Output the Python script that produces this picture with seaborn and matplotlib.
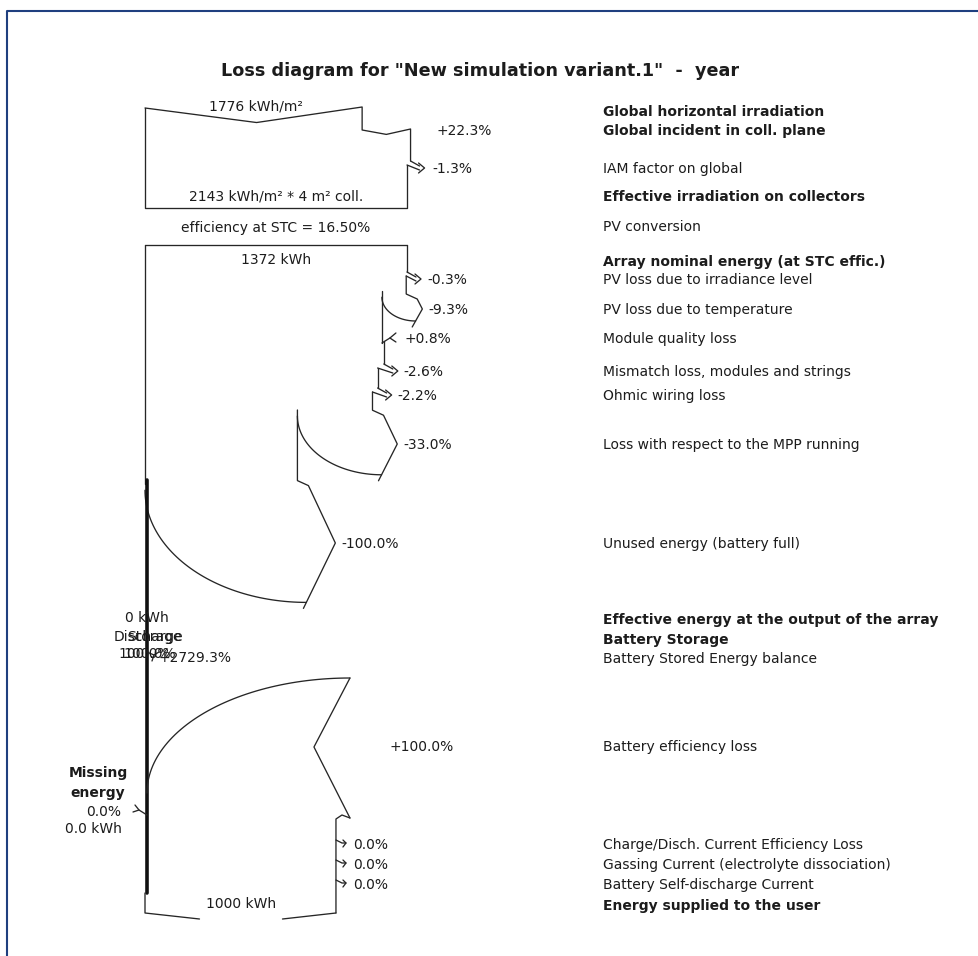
import numpy as np
import pandas as pd
import matplotlib
matplotlib.use("Agg")
import matplotlib.pyplot as plt
import seaborn as sns

# ---------------- data ----------------
title = 'Loss diagram for "New simulation variant.1"  -  year'
row_labels = [
    "Global horizontal irradiation", "Global incident in coll. plane", "IAM factor on global",
    "Effective irradiation on collectors", "PV conversion", "Array nominal energy (at STC effic.)",
    "PV loss due to irradiance level", "PV loss due to temperature", "Module quality loss",
    "Mismatch loss, modules and strings", "Ohmic wiring loss", "Loss with respect to the MPP running",
    "Unused energy (battery full)", "Effective energy at the output of the array", "Battery Storage",
    "Battery Stored Energy balance", "Battery efficiency loss", "Charge/Disch. Current Efficiency Loss",
    "Gassing Current (electrolyte dissociation)", "Battery Self-discharge Current",
    "Energy supplied to the user"]
row_bold = [1, 1, 0, 1, 0, 1, 0, 0, 0, 0, 0, 0, 0, 1, 1, 0, 0, 0, 0, 0, 1]

ghi_kwh_m2 = 1776
transposition_pct = 22.3
iam_pct = -1.3
eff_irr_kwh_m2 = 2143
coll_area_m2 = 4
stc_eff_pct = 16.50
array_nominal_kwh = 1372
array_loss_pct = [-0.3, -9.3, 0.8, -2.6, -2.2, -33.0, -100.0]
array_output_kwh = 0
discharge_pct = 100.0
storage_pct = 100.0
battery_balance_pct = 2729.3
battery_eff_pct = 100.0
missing_pct = 0.0
missing_kwh = 0.0
battery_current_loss_pct = [0.0, 0.0, 0.0]
user_energy_kwh = 1000

# ---------------- layout ----------------
row_y = [111, 130, 168, 196, 226, 261, 279, 309, 338, 371, 395, 444, 543, 619, 639, 658,
         746, 844, 864, 884, 905]
X0 = 145          # left edge of the flow
BOX_W = 262       # pixel width of the effective irradiation / nominal energy boxes
LABEL_X = 603
LINE = "#262626"
TXT = "#1c1c1c"
FS = 10
LW = 0.95

sns.set_theme(style="white")
plt.rcParams["font.family"] = ["DejaVu Sans"]

fig = plt.figure(figsize=(9.79, 9.56), dpi=100)
ax = fig.add_axes([0, 0, 1, 1])


def path(xs, ys, lw=LW, color=LINE):
    df = pd.DataFrame({"x": np.asarray(xs, float), "y": np.asarray(ys, float)})
    sns.lineplot(data=df, x="x", y="y", sort=False, estimator=None, ax=ax,
                 color=color, linewidth=lw, legend=False)


def txt(x, y, s, ha="left", bold=False, size=FS):
    ax.text(x, y + 5, s, ha=ha, va="baseline", fontsize=size,
            fontweight="bold" if bold else "normal", color=TXT)


def small_loss(xo, xn, yl, y_from):
    path([xo, xo], [y_from, yl - 7])
    path([xo, xo + 9], [yl - 7, yl - 2])
    path([xn, xo + 9], [yl - 3, yl + 2])
    path([xo + 8, xo + 14, xo + 8], [yl - 5, yl, yl + 5])
    return yl - 3, xo + 14


def big_loss(xo, xn, yl, y_from):
    d = xo - xn
    ya = yl - (0.37 * d + 6)
    t = 0.17 * d + 12
    h = 0.37 * d + 3
    ys = yl - (0.32 * d + 4)
    tipx, tipy = xo + t, yl
    bx, by = xo + 6, yl + h + 6
    frac = h / (h + 6)
    xe = tipx + (bx - tipx) * frac
    ye = yl + h
    path([xo, xo, xo + 11, tipx, bx], [y_from, ya, ya + 5, tipy, by])
    phi = np.linspace(0, np.pi / 2, 60)
    a = xe - xn
    b = ye - ys
    path(xe - a * np.cos(phi), ys + b * np.sin(phi))
    return ys - 6, tipx


def gain_fork(xo, xn, yl, y_from):
    path([xo, xo], [y_from, yl + 5])
    path([xo, xo + 8], [yl + 5, yl])
    path([xo + 14, xo + 8, xo + 14], [yl - 5, yl, yl + 4])
    return yl + 3, xo + 14


# ---------- frame ----------
path([7.5, 7.5, 979], [956, 10.5, 10.5], lw=1.5, color="#1f3f7f")

# ---------- title ----------
ax.text(480, 76, title, ha="center", va="baseline", fontsize=12.7,
        fontweight="bold", color=TXT)

# ---------- right-hand labels ----------
for lab, yy, bd in zip(row_labels, row_y, row_bold):
    txt(LABEL_X, yy, lab, bold=bool(bd))

# ---------- irradiation box ----------
s1 = BOX_W / eff_irr_kwh_m2
x_ghi = X0 + ghi_kwh_m2 * s1
x_inc = X0 + ghi_kwh_m2 * (1 + transposition_pct / 100) * s1
x_eff = X0 + eff_irr_kwh_m2 * s1
y_top, y_bot = 108, 208
chev = lambda w: 0.06 * w + 1.5
yg = row_y[1]
path([X0, (X0 + x_ghi) / 2 + 3, x_ghi, x_ghi, (x_ghi + x_inc) / 2, x_inc, x_inc],
     [y_top, y_top + chev(x_ghi - X0), y_top - 1, yg, yg + chev(x_inc - x_ghi), yg - 1,
      row_y[2] - 7])
txt(x_inc + 26, yg, f"{transposition_pct:+.1f}%")
ny, tip = small_loss(x_inc, x_eff, row_y[2], row_y[2] - 7)
txt(tip + 8, row_y[2], f"{iam_pct:+.1f}%")
path([x_eff, x_eff, X0, X0], [ny, y_bot, y_bot, y_top])
txt((X0 + x_ghi) / 2 + 2, y_top - 3, f"{ghi_kwh_m2} kWh/m²", ha="center")
txt((X0 + x_eff) / 2, row_y[3] - 1,
    f"{eff_irr_kwh_m2} kWh/m² * {coll_area_m2} m² coll.", ha="center")
txt((X0 + x_eff) / 2, row_y[4] + 1, f"efficiency at STC = {stc_eff_pct:.2f}%", ha="center")

# ---------- array box ----------
s2 = BOX_W / array_nominal_kwh
y_arr = 245
cur_x = X0 + array_nominal_kwh * s2
path([X0, cur_x], [y_arr, y_arr])
txt((X0 + cur_x) / 2, y_arr + 14, f"{array_nominal_kwh} kWh", ha="center")
cur_y = y_arr
energy = array_nominal_kwh
for p, yl in zip(array_loss_pct, row_y[6:13]):
    energy = energy * (1 + p / 100)
    xn = X0 + energy * s2
    d = cur_x - xn
    if p < 0 and d >= 12:
        cur_y, tip = big_loss(cur_x, xn, yl, cur_y)
        tx = tip + 6
    elif p < 0:
        cur_y, tip = small_loss(cur_x, xn, yl, cur_y)
        tx = tip + 6
    else:
        cur_y, tip = gain_fork(cur_x, xn, yl, cur_y)
        tx = tip + 9
    txt(tx, yl, f"{p:+.1f}%")
    cur_x = xn

# left edge of the array flow
path([X0, X0], [y_arr, 484])
x_out = X0 + array_output_kwh * s2
path([x_out + 2, x_out + 2], [480, 893], lw=2.6, color="#111111")
txt(x_out + 2, 617, f"{array_output_kwh} kWh", ha="center")

# ---------- battery storage ----------
txt(183, 636, "Discharge", ha="right")
txt(182, 636, "Storage", ha="right")
txt(118, 653, f"{discharge_pct:.1f}%")
txt(123, 653, f"{storage_pct:.1f}%")
yb = 655
path([x_out + 2, x_out + 9, x_out + 14], [yb - 3, yb, yb - 3])
path([x_out + 9, x_out + 7], [yb, yb + 6])
txt(159, 657, f"{battery_balance_pct:+.1f}%")

# battery efficiency (gain arrow)
x_user = X0 + user_energy_kwh * s2
yl = row_y[16]
xo_out = x_user + 14
ys_arc = yl + 47
ye = yl - 68
phi = np.linspace(0, np.pi / 2, 60)
a = xo_out - (x_out + 2)
b = ys_arc - ye
path(xo_out - a * np.cos(phi), ys_arc - b * np.sin(phi))
path([xo_out, x_user - 22, xo_out], [ye, yl + 1, yl + 72])
path([xo_out, x_user + 6, x_user, x_user], [yl + 72, yl + 69, yl + 73, 913])
txt(xo_out + 40, yl, f"{battery_eff_pct:+.1f}%")

# missing energy
ym = 812
path([x_out + 2, x_out - 6, x_out - 12], [ym + 3, ym - 2, ym])
path([x_out - 6, x_out - 10], [ym - 2, ym - 7])
ax.text(98, 777, "Missing", ha="center", va="baseline", fontsize=FS, fontweight="bold", color=TXT)
ax.text(98, 797, "energy", ha="center", va="baseline", fontsize=FS, fontweight="bold", color=TXT)
txt(121, 811, f"{missing_pct:.1f}%", ha="right")
txt(122, 828, f"{missing_kwh:.1f} kWh", ha="right")

# battery current losses
for p, yy in zip(battery_current_loss_pct, row_y[17:20]):
    path([x_user, x_user + 6, x_user + 10], [yy - 4, yy - 1, yy - 1])
    path([x_user + 7, x_user + 10, x_user + 7], [yy - 4, yy - 1, yy + 3])
    txt(x_user + 17, yy, f"{p:.1f}%")

# output box bottom
cx = (X0 + x_user) / 2
path([X0, X0, cx - 41], [893, 913, 919])
path([cx + 42, x_user], [919, 913])
txt(cx + 1, 903, f"{user_energy_kwh} kWh", ha="center")

ax.set_xlim(0, 979)
ax.set_ylim(956, 0)
ax.axis("off")
fig.savefig("out.png", dpi=100, facecolor="white")
